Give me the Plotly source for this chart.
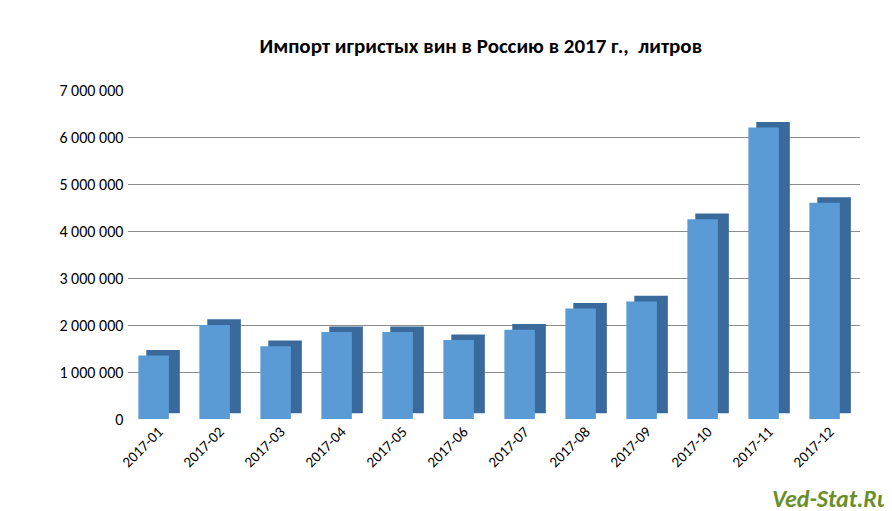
import plotly.graph_objects as go

months = ['2017-01', '2017-02', '2017-03', '2017-04', '2017-05', '2017-06',
          '2017-07', '2017-08', '2017-09', '2017-10', '2017-11', '2017-12']
litres = [1350000, 2000000, 1550000, 1850000, 1850000, 1680000,
          1900000, 2350000, 2500000, 4250000, 6200000, 4600000]
depth = 120000

fig = go.Figure()
# dark side/top of the pseudo-3D bars
fig.add_trace(go.Bar(x=months, y=litres, base=[depth] * len(months),
                     marker=dict(color='#3a6a9c', line=dict(width=0)),
                     width=0.55, offset=-0.2, hoverinfo='skip'))
fig.add_trace(go.Bar(x=months, y=litres,
                     marker=dict(color='#5b9bd5', line=dict(width=0)),
                     width=0.5, offset=-0.33))

fig.update_layout(
    width=892, height=511, barmode='overlay', showlegend=False,
    plot_bgcolor='white', paper_bgcolor='white',
    font=dict(family='Calibri, Carlito, Liberation Sans, sans-serif', size=16, color='#000'),
    title=dict(text='<b>Импорт игристых вин в Россию в 2017 г.,  литров</b>',
               x=0.53, y=0.94, font=dict(size=21)),
    margin=dict(l=120, r=40, t=82, b=100),
    xaxis=dict(type='category', tickangle=-45, showline=False, tickfont=dict(size=15)),
    yaxis=dict(range=[0, 7000000], dtick=1000000, tickformat=',d',
               separatethousands=True, gridcolor='#8c8c8c', gridwidth=1,
               ticksuffix=' ', tickfont=dict(size=16)),
    separators=', ',
    annotations=[dict(text='<b><i>Ved-Stat.Ru</i></b>', x=1.0, y=0.0,
                      xref='paper', yref='paper', xanchor='right', yanchor='bottom',
                      xshift=32, yshift=-96, showarrow=False,
                      font=dict(size=24, color='#6a8f2a'))],
)
fig.write_html('out.html')
